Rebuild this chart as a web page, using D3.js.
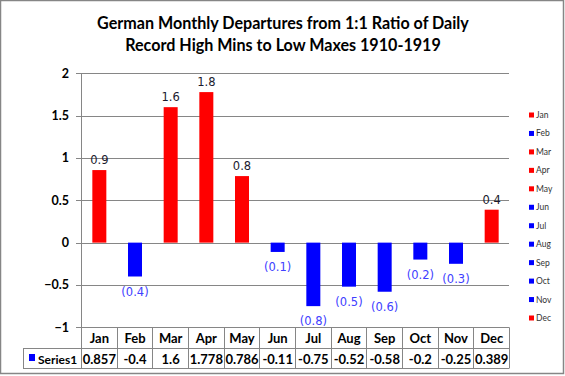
<!DOCTYPE html>
<html><head><meta charset="utf-8">
<script src="https://cdn.jsdelivr.net/npm/d3@7"></script>
<style>body{margin:0;background:#fff}svg{display:block}</style>
</head><body>
<svg id="c" width="565" height="376"></svg>
<script>
const months = ["Jan","Feb","Mar","Apr","May","Jun","Jul","Aug","Sep","Oct","Nov","Dec"];
const values = [0.857,-0.4,1.6,1.778,0.786,-0.11,-0.75,-0.52,-0.58,-0.2,-0.25,0.389];
const tableLabels = ["0.857","-0.4","1.6","1.778","0.786","-0.11","-0.75","-0.52","-0.58","-0.2","-0.25","0.389"];
const barLabels = ["0.9","(0.4)","1.6","1.8","0.8","(0.1)","(0.8)","(0.5)","(0.6)","(0.2)","(0.3)","0.4"];
const yTicks = [-1,-0.5,0,0.5,1,1.5,2];
const seriesName = "Series1";
const titleLines = ["German Monthly Departures from 1:1 Ratio of Daily","Record High Mins to Low Maxes 1910-1919"];

(function(){
const svg = d3.select("#c");
const pLeft = 81, pRight = 509, pTop = 73.3, pBottom = 327.3;
const x = d3.scaleBand().domain(months).range([pLeft, pRight]);
const y = d3.scaleLinear().domain([-1, 2]).range([pBottom, pTop]);
const color = v => v >= 0 ? "#ff0000" : "#0000ff";
const grid = "#868686";

// outer border
svg.append("rect").attr("x",0.5).attr("y",0.5).attr("width",563).attr("height",373)
  .attr("fill","#fff").attr("stroke",grid).attr("stroke-width",1.5);

// title
const tf = "Lato, 'Open Sans', sans-serif";
const tg = svg.append("g");
titleLines.forEach((t,i)=>{
  tg.append("text").attr("x",283).attr("y",[29,51][i]).attr("text-anchor","middle")
    .attr("font-family",tf).attr("font-weight","bold").attr("font-size",16).attr("fill","#000").text(t);
});
{
  const n = tg.select("text").node();
  const w = n.getComputedTextLength();
  const fs = 16 * 372 / w;
  tg.selectAll("text").attr("font-size", fs);
}

// gridlines
svg.append("g").selectAll("line").data(yTicks).join("line")
  .attr("x1",pLeft-5).attr("x2",pRight).attr("y1",d=>Math.round(y(d))+0.5).attr("y2",d=>Math.round(y(d))+0.5)
  .attr("stroke",grid).attr("stroke-width",1);
// y axis
svg.append("line").attr("x1",pLeft+0.5).attr("x2",pLeft+0.5).attr("y1",Math.round(y(2))).attr("y2",368.5)
  .attr("stroke",grid);
svg.append("g").selectAll("text").data(yTicks).join("text")
  .attr("x",69).attr("y",d=>y(d)+4.5).attr("text-anchor","end")
  .attr("font-family",tf).attr("font-weight","bold").attr("font-size",12.5).attr("fill","#000")
  .text(d=>d3.format("")(d));

// bars
const bw = 14;
svg.append("g").selectAll("rect").data(values).join("rect")
  .attr("x",(d,i)=>x(months[i])+x.bandwidth()/2-bw/2+0.5)
  .attr("width",bw)
  .attr("y",d=>Math.min(y(d),y(0)))
  .attr("height",d=>Math.abs(y(d)-y(0)))
  .attr("fill",color);

// bar labels
svg.append("g").selectAll("text").data(values).join("text")
  .attr("x",(d,i)=>x(months[i])+x.bandwidth()/2+0.5)
  .attr("y",d=> d>=0 ? y(d)-6 : y(d)+19)
  .attr("text-anchor","middle")
  .attr("font-family","'DejaVu Sans', Verdana, sans-serif").attr("font-size",11.5)
  .attr("fill",d=>d>=0 ? "#1a1a2e" : "#4040ff")
  .text((d,i)=>barLabels[i]);

// data table
const tb = svg.append("g");
const rowTop = pBottom, rowMid = 348.5, rowBot = 368.5;
tb.append("line").attr("x1",23).attr("x2",pRight).attr("y1",rowMid).attr("y2",rowMid).attr("stroke",grid);
tb.append("line").attr("x1",23).attr("x2",pRight).attr("y1",rowBot).attr("y2",rowBot).attr("stroke",grid);
tb.append("line").attr("x1",23.5).attr("x2",23.5).attr("y1",rowMid).attr("y2",rowBot).attr("stroke",grid);
const bounds = months.map(m=>x(m)).concat([pRight]);
tb.selectAll("line.v").data(bounds.slice(1)).join("line").attr("class","v")
  .attr("x1",d=>Math.round(d)+0.5).attr("x2",d=>Math.round(d)+0.5).attr("y1",rowTop).attr("y2",rowBot).attr("stroke",grid);
tb.selectAll("text.m").data(months).join("text").attr("class","m")
  .attr("x",d=>x(d)+x.bandwidth()/2+0.5).attr("y",342.5).attr("text-anchor","middle")
  .attr("font-family",tf).attr("font-weight","bold").attr("font-size",13).attr("fill","#000").text(d=>d);
tb.selectAll("text.v").data(tableLabels).join("text").attr("class","v")
  .attr("x",(d,i)=>x(months[i])+x.bandwidth()/2+0.5).attr("y",363.5).attr("text-anchor","middle")
  .attr("font-family",tf).attr("font-weight","bold").attr("font-size",13).attr("fill","#000").text(d=>d);
tb.append("rect").attr("x",29).attr("y",354).attr("width",6).attr("height",7).attr("fill","#0000ff");
tb.append("text").attr("x",38).attr("y",363.5).attr("font-family",tf).attr("font-weight","bold")
  .attr("font-size",12).attr("fill","#000").text(seriesName);

// legend
const lg = svg.append("g");
const ly = d3.scaleLinear().domain([0,11]).range([115,318]);
lg.selectAll("rect").data(values).join("rect")
  .attr("x",529).attr("y",(d,i)=>ly(i)-2.5).attr("width",5).attr("height",5).attr("fill",color);
lg.selectAll("text").data(months).join("text")
  .attr("x",536).attr("y",(d,i)=>ly(i)+3).attr("font-family",tf).attr("font-size",8.5).attr("fill","#333")
  .text(d=>d);
})();
</script>
</body></html>
